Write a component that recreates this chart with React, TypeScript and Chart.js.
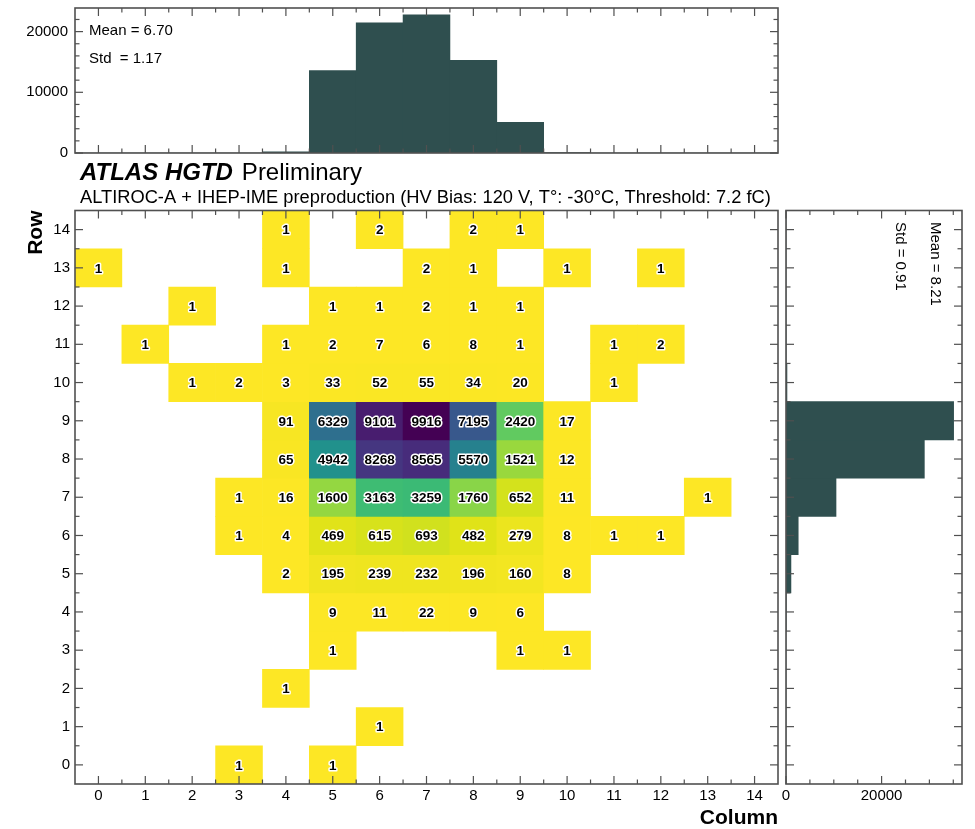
import React, { useEffect, useRef } from 'react';
import { Chart, registerables } from 'chart.js';

Chart.register(...registerables);

// ---------- data ----------
const columnLabels = ['0', '1', '2', '3', '4', '5', '6', '7', '8', '9', '10', '11', '12', '13', '14'];
const rowLabels = ['0', '1', '2', '3', '4', '5', '6', '7', '8', '9', '10', '11', '12', '13', '14'];

// counts per row, indexed by column 0..14
const row0 = [0, 0, 0, 1, 0, 1, 0, 0, 0, 0, 0, 0, 0, 0, 0];
const row1 = [0, 0, 0, 0, 0, 0, 1, 0, 0, 0, 0, 0, 0, 0, 0];
const row2 = [0, 0, 0, 0, 1, 0, 0, 0, 0, 0, 0, 0, 0, 0, 0];
const row3 = [0, 0, 0, 0, 0, 1, 0, 0, 0, 1, 1, 0, 0, 0, 0];
const row4 = [0, 0, 0, 0, 0, 9, 11, 22, 9, 6, 0, 0, 0, 0, 0];
const row5 = [0, 0, 0, 0, 2, 195, 239, 232, 196, 160, 8, 0, 0, 0, 0];
const row6 = [0, 0, 0, 1, 4, 469, 615, 693, 482, 279, 8, 1, 1, 0, 0];
const row7 = [0, 0, 0, 1, 16, 1600, 3163, 3259, 1760, 652, 11, 0, 0, 1, 0];
const row8 = [0, 0, 0, 0, 65, 4942, 8268, 8565, 5570, 1521, 12, 0, 0, 0, 0];
const row9 = [0, 0, 0, 0, 91, 6329, 9101, 9916, 7195, 2420, 17, 0, 0, 0, 0];
const row10 = [0, 0, 1, 2, 3, 33, 52, 55, 34, 20, 0, 1, 0, 0, 0];
const row11 = [0, 1, 0, 0, 1, 2, 7, 6, 8, 1, 0, 1, 2, 0, 0];
const row12 = [0, 0, 1, 0, 0, 1, 1, 2, 1, 1, 0, 0, 0, 0, 0];
const row13 = [1, 0, 0, 0, 1, 0, 0, 2, 1, 0, 1, 0, 1, 0, 0];
const row14 = [0, 0, 0, 0, 1, 0, 2, 0, 2, 1, 0, 0, 0, 0, 0];

const columnTotals = [1, 1, 2, 5, 185, 13582, 21460, 22752, 15258, 5062, 58, 3, 4, 1, 0];
const rowTotals = [2, 1, 1, 3, 57, 1032, 2553, 10463, 28943, 35069, 201, 29, 7, 7, 6];

const topCountTicks = [0, 10000, 20000];
const sideCountTicks = [0, 20000];
const topCountMax = 23890;
const sideCountMax = 36822;
const colorMax = 9916;

const xStatLines = ['Mean = 6.70', 'Std  = 1.17'];
const yStatLines = ['Mean = 8.21', 'Std = 0.91'];
const titleBold = 'ATLAS HGTD';
const titleRest = 'Preliminary';
const subtitle = 'ALTIROC-A + IHEP-IME preproduction (HV Bias: 120 V, T°: -30°C, Threshold: 7.2 fC)';

// ---------- styling ----------
const FONT = '"Liberation Sans", Arial, Helvetica, sans-serif';
const AXIS_COLOR = '#505050';
const BAR_COLOR = '#2f4f4f';
const tickFont = { family: FONT, size: 15 };

const viridisStops = [
  '#440154', '#471164', '#482475', '#472f7d', '#414487', '#3b528b', '#355f8d',
  '#2f6c8e', '#2a788e', '#25848e', '#21918c', '#1f9e89', '#22a884', '#35b779',
  '#44bf70', '#5ec962', '#7ad151', '#9bd93c', '#bddf26', '#dfe318', '#fde725',
];
function hexToRgb(h: string) {
  return [parseInt(h.slice(1, 3), 16), parseInt(h.slice(3, 5), 16), parseInt(h.slice(5, 7), 16)];
}
function viridisR(t: number) {
  const u = Math.max(0, Math.min(1, 1 - t)) * (viridisStops.length - 1);
  const i = Math.min(Math.floor(u), viridisStops.length - 2);
  const f = u - i;
  const a = hexToRgb(viridisStops[i]);
  const b = hexToRgb(viridisStops[i + 1]);
  const c = a.map((v, k) => Math.round(v + (b[k] - v) * f));
  return `rgb(${c[0]},${c[1]},${c[2]})`;
}

type TickSpec = { xMajor: number[]; xMinor: number[]; yMajor: number[]; yMinor: number[] };

function makeFramePlugin(spec: TickSpec) {
  return {
    id: 'frame',
    afterDatasetsDraw(chart: any) {
      const { ctx, chartArea: a } = chart;
      const xs = chart.scales.x;
      const ys = chart.scales.y;
      ctx.save();
      ctx.strokeStyle = AXIS_COLOR;
      ctx.lineWidth = 1.2;
      const seg = (x1: number, y1: number, x2: number, y2: number) => {
        ctx.beginPath();
        ctx.moveTo(x1, y1);
        ctx.lineTo(x2, y2);
        ctx.stroke();
      };
      const xTicks = (vals: number[], len: number) =>
        vals.forEach((v) => {
          const p = xs.getPixelForValue(v);
          seg(p, a.bottom, p, a.bottom - len);
          seg(p, a.top, p, a.top + len);
        });
      const yTicks = (vals: number[], len: number) =>
        vals.forEach((v) => {
          const p = ys.getPixelForValue(v);
          seg(a.left, p, a.left + len, p);
          seg(a.right, p, a.right - len, p);
        });
      xTicks(spec.xMajor, 8);
      xTicks(spec.xMinor, 4.5);
      yTicks(spec.yMajor, 8);
      yTicks(spec.yMinor, 4.5);
      ctx.lineWidth = 1.6;
      ctx.strokeRect(a.left, a.top, a.right - a.left, a.bottom - a.top);
      ctx.restore();
    },
  };
}

const indexMajor = columnLabels.map((_, i) => i);
const indexMinor = columnLabels.slice(1).map((_, i) => i + 0.5);

function minorBetween(max: number, step: number, majors: number[]) {
  const out: number[] = [];
  for (let v = step; v < max; v += step) if (!majors.includes(v)) out.push(v);
  return out;
}

const hiddenGrid = { display: false, drawTicks: false };
const noBorder = { display: false };
const zeroPad = (s: any) => {
  s.paddingTop = 0;
  s.paddingBottom = 0;
  s.paddingLeft = 0;
  s.paddingRight = 0;
};

export default function App() {
  const topRef = useRef<HTMLCanvasElement>(null);
  const mainRef = useRef<HTMLCanvasElement>(null);
  const sideRef = useRef<HTMLCanvasElement>(null);

  useEffect(() => {
    // ----- top histogram -----
    const topChart = new Chart(topRef.current as HTMLCanvasElement, {
      type: 'bar',
      data: {
        labels: columnLabels,
        datasets: [{
          data: columnTotals,
          backgroundColor: BAR_COLOR,
          borderWidth: 0,
          categoryPercentage: 1,
          barPercentage: 1,
        }],
      },
      options: {
        responsive: false,
        animation: false,
        events: [],
        layout: { padding: { left: 0, top: 8, right: 197, bottom: 676 } },
        plugins: { legend: { display: false }, tooltip: { enabled: false } },
        scales: {
          x: {
            type: 'category',
            offset: true,
            grid: hiddenGrid,
            border: noBorder,
            ticks: { display: false },
            afterFit: (s: any) => { s.height = 0; zeroPad(s); },
          },
          y: {
            type: 'linear',
            min: 0,
            max: topCountMax,
            grid: hiddenGrid,
            border: noBorder,
            ticks: { font: tickFont, color: '#000', padding: 7, callback: (v: any) => String(v) },
            afterBuildTicks: (s: any) => { s.ticks = topCountTicks.map((v) => ({ value: v })); },
            afterFit: (s: any) => { s.width = 75; zeroPad(s); },
          },
        },
      },
      plugins: [
        makeFramePlugin({
          xMajor: indexMajor,
          xMinor: indexMinor,
          yMajor: topCountTicks,
          yMinor: minorBetween(topCountMax, 2000, topCountTicks),
        }),
        {
          id: 'xstats',
          afterDraw(chart: any) {
            const { ctx, chartArea: a } = chart;
            ctx.save();
            ctx.font = `15px ${FONT}`;
            ctx.fillStyle = '#000';
            ctx.textBaseline = 'alphabetic';
            ctx.fillText(xStatLines[0], a.left + 14, a.top + 27);
            ctx.fillText(xStatLines[1], a.left + 14, a.top + 55);
            ctx.restore();
          },
        },
      ],
    } as any);

    // ----- main 2D histogram -----
    const rowArrays = [row0, row1, row2, row3, row4, row5, row6, row7, row8, row9, row10, row11, row12, row13, row14];
    const cells: { x: string; y: number[]; v: number }[] = [];
    rowArrays.forEach((counts, r) =>
      counts.forEach((v, c) => {
        if (v > 0) cells.push({ x: columnLabels[c], y: [r - 0.5, r + 0.5], v });
      })
    );

    const mainChart = new Chart(mainRef.current as HTMLCanvasElement, {
      type: 'bar',
      data: {
        labels: columnLabels,
        datasets: [{
          data: cells,
          backgroundColor: (ctx: any) => (ctx.raw ? viridisR(ctx.raw.v / colorMax) : 'transparent'),
          borderWidth: 0,
          grouped: false,
          categoryPercentage: 1,
          barPercentage: 1,
        }],
      },
      options: {
        responsive: false,
        animation: false,
        events: [],
        layout: { padding: { left: 0, top: 210.5, right: 197, bottom: 0 } },
        plugins: { legend: { display: false }, tooltip: { enabled: false } },
        scales: {
          x: {
            type: 'category',
            offset: true,
            grid: hiddenGrid,
            border: noBorder,
            ticks: { font: tickFont, color: '#000', padding: 3, autoSkip: false, maxRotation: 0 },
            title: {
              display: true,
              text: 'Column',
              align: 'end',
              color: '#000',
              font: { family: FONT, size: 21, weight: 'bold', lineHeight: 1 },
              padding: { top: 0, bottom: 0 },
            },
            afterFit: (s: any) => { s.height = 45; zeroPad(s); },
          },
          y: {
            type: 'linear',
            min: -0.5,
            max: 14.5,
            grid: hiddenGrid,
            border: noBorder,
            ticks: { font: tickFont, color: '#000', padding: 5, callback: (v: any) => String(v) },
            afterBuildTicks: (s: any) => { s.ticks = rowLabels.map((_, i) => ({ value: i })); },
            title: {
              display: true,
              text: 'Row',
              align: 'end',
              color: '#000',
              font: { family: FONT, size: 21, weight: 'bold', lineHeight: 1 },
              padding: { top: 25.5, bottom: 0 },
            },
            afterFit: (s: any) => { s.width = 75; zeroPad(s); },
          },
        },
      },
      plugins: [
        makeFramePlugin({ xMajor: indexMajor, xMinor: indexMinor, yMajor: indexMajor, yMinor: indexMinor }),
        {
          id: 'cellLabels',
          afterDatasetsDraw(chart: any) {
            const { ctx } = chart;
            const meta = chart.getDatasetMeta(0);
            ctx.save();
            ctx.font = `bold 13.5px ${FONT}`;
            ctx.textAlign = 'center';
            ctx.textBaseline = 'middle';
            ctx.lineJoin = 'round';
            ctx.lineWidth = 3;
            ctx.strokeStyle = '#fff';
            ctx.fillStyle = '#000';
            meta.data.forEach((el: any, i: number) => {
              const p = el.getCenterPoint();
              const t = String(cells[i].v);
              ctx.strokeText(t, p.x, p.y + 1);
              ctx.fillText(t, p.x, p.y + 1);
            });
            ctx.restore();
          },
        },
        {
          id: 'titles',
          afterDraw(chart: any) {
            const { ctx } = chart;
            ctx.save();
            ctx.fillStyle = '#000';
            ctx.textBaseline = 'alphabetic';
            ctx.font = `italic bold 24px ${FONT}`;
            ctx.fillText(titleBold, 80, 180);
            const w = ctx.measureText(titleBold).width;
            ctx.font = `24px ${FONT}`;
            ctx.fillText(titleRest, 80 + w + 9, 180);
            ctx.font = `18.3px ${FONT}`;
            ctx.fillText(subtitle, 80, 202.5);
            ctx.restore();
          },
        },
      ],
    } as any);

    // ----- side histogram -----
    const sideChart = new Chart(sideRef.current as HTMLCanvasElement, {
      type: 'bar',
      data: {
        labels: rowLabels,
        datasets: [{
          data: rowTotals,
          backgroundColor: BAR_COLOR,
          borderWidth: 0,
          categoryPercentage: 1,
          barPercentage: 1,
        }],
      },
      options: {
        indexAxis: 'y',
        responsive: false,
        animation: false,
        events: [],
        layout: { padding: { left: 786, top: 210.5, right: 13, bottom: 0 } },
        plugins: { legend: { display: false }, tooltip: { enabled: false } },
        scales: {
          x: {
            type: 'linear',
            min: 0,
            max: sideCountMax,
            grid: hiddenGrid,
            border: noBorder,
            ticks: { font: tickFont, color: '#000', padding: 3, maxRotation: 0, callback: (v: any) => String(v) },
            afterBuildTicks: (s: any) => { s.ticks = sideCountTicks.map((v) => ({ value: v })); },
            afterFit: (s: any) => { s.height = 45; zeroPad(s); },
          },
          y: {
            type: 'category',
            reverse: true,
            offset: true,
            grid: hiddenGrid,
            border: noBorder,
            ticks: { display: false },
            afterFit: (s: any) => { s.width = 0; zeroPad(s); },
          },
        },
      },
      plugins: [
        makeFramePlugin({
          xMajor: sideCountTicks,
          xMinor: minorBetween(sideCountMax, 5000, sideCountTicks),
          yMajor: indexMajor,
          yMinor: indexMinor,
        }),
        {
          id: 'ystats',
          afterDraw(chart: any) {
            const { ctx, chartArea: a } = chart;
            const drawRot = (text: string, dx: number) => {
              ctx.save();
              ctx.font = `15px ${FONT}`;
              ctx.fillStyle = '#000';
              ctx.textBaseline = 'alphabetic';
              ctx.textAlign = 'left';
              ctx.translate(a.right - dx, a.top + 11.5);
              ctx.rotate(Math.PI / 2);
              ctx.fillText(text, 0, 0);
              ctx.restore();
            };
            drawRot(yStatLines[0], 31);
            drawRot(yStatLines[1], 66);
          },
        },
      ],
    } as any);

    return () => {
      topChart.destroy();
      mainChart.destroy();
      sideChart.destroy();
    };
  }, []);

  const canvasStyle: React.CSSProperties = { position: 'absolute', left: 0, top: 0 };
  return (
    <div style={{ position: 'absolute', left: 0, top: 0, width: 975, height: 829, background: '#fff' }}>
      <canvas ref={topRef} width={975} height={829} style={canvasStyle} />
      <canvas ref={mainRef} width={975} height={829} style={canvasStyle} />
      <canvas ref={sideRef} width={975} height={829} style={canvasStyle} />
    </div>
  );
}
